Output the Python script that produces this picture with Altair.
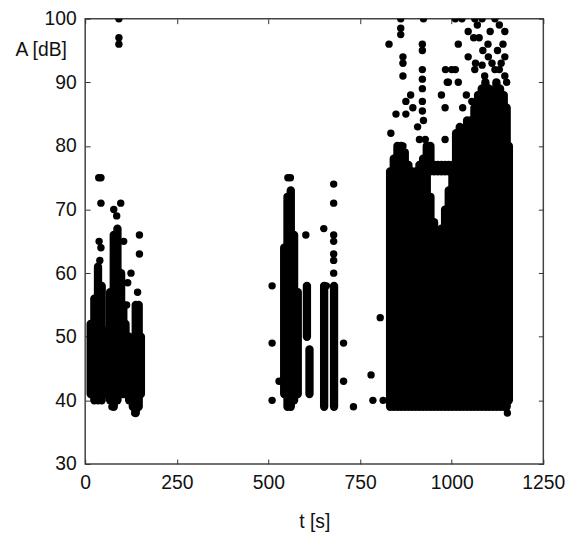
import altair as alt
import pandas as pd

# ---- dense stacks of points read as vertical runs (time, lowest level, highest level)
col_t = [15, 25, 35, 45, 57, 68, 78, 88, 98, 104, 110, 120, 130, 138, 146, 152,
         543, 552, 561, 570, 580, 605, 612, 652, 679,
         832, 842, 852, 862, 872, 882, 892, 902, 912, 922, 932,
         942, 942, 952, 952, 962, 962, 972, 972, 982, 982, 992, 992,
         1002, 1012, 1022, 1032, 1042, 1052, 1062, 1072, 1082, 1092,
         1102, 1112, 1122, 1132, 1142, 1150, 1156]
col_lo = [41, 40, 40, 40, 41, 40, 39, 40, 41, 41, 41, 40, 39, 38, 39, 41,
          41, 39, 39, 40, 41, 50, 41, 39, 39,
          39, 39, 39, 39, 39, 39, 39, 39, 39, 39, 39,
          39, 76, 39, 76, 39, 76, 39, 76, 39, 76, 39, 76,
          39, 39, 39, 39, 39, 39, 39, 39, 39, 39,
          39, 39, 39, 39, 39, 39, 40]
col_hi = [52, 56, 61, 58, 51, 57, 66, 67, 60, 55, 52, 50, 47, 55, 55, 50,
          64, 72, 73, 66, 57, 58, 48, 58, 58,
          76, 78, 80, 80, 79, 77, 76, 76, 77, 78, 80,
          72, 80, 68, 77, 66.5, 77, 67, 77, 70, 77, 73, 77,
          77, 82, 83, 82, 84, 84, 86, 88, 89, 90,
          89, 88, 90, 89, 88, 86, 80]

# ---- isolated points (time, level)
pt_t = [37, 43, 43, 97, 78, 86, 148, 148, 38, 43, 40, 105, 92, 92, 92,
        116, 143, 113, 73, 135, 125,
        553, 560, 602, 651, 678, 678, 678, 678, 678, 678, 678,
        510, 605, 652, 658, 510, 510, 529, 705, 705, 732, 780, 785, 813, 805,
        1152,
        861, 861, 861, 923, 829, 920, 920, 867, 867, 867, 920, 920, 920,
        983, 1000, 1010, 988, 972, 888, 875, 894, 920, 920, 848, 875, 982,
        923, 907, 834, 912, 928, 982, 867,
        1010, 1028, 1063, 1083, 1118, 1130, 1145, 1045, 1060, 1075, 1099,
        1018, 1085, 1100, 1110, 1118, 1145, 1045, 1065, 1083, 991, 1018,
        1145, 1063, 1130, 1150, 1040, 1055, 1030, 1090, 1125, 1140, 1070,
        1105, 1135]
pt_a = [75, 75, 71, 71, 70, 69, 66, 63, 65, 64, 62, 65, 100, 97, 96,
        58.5, 57, 55, 39, 38, 60,
        75, 75, 66, 67, 74, 71, 66, 65, 63, 62, 60,
        58, 58, 58, 58, 49, 40, 43, 49, 43, 39, 44, 40, 40, 53,
        38,
        100, 98.5, 97.5, 100, 96, 96, 95, 94, 93, 91, 92, 90.5, 89,
        92, 92, 92, 90, 88, 88, 87, 86, 87, 85.5, 85, 85, 86,
        84, 83, 82, 81, 81, 81, 80,
        100, 100, 100, 100, 100, 99, 98, 98, 97, 97, 96,
        96, 95, 94, 93, 92, 94, 94, 93, 92.7, 90, 90,
        91, 92, 92, 90, 88, 87, 86, 91, 95, 96, 99,
        98, 93]

x_ticks = [0, 250, 500, 750, 1000, 1250]
y_ticks = [30, 40, 50, 60, 70, 80, 90, 100]

cols = pd.DataFrame({"t": col_t, "lo": col_lo, "hi": col_hi})
pts = pd.DataFrame({"t": pt_t, "A": pt_a})

FONT = "Liberation Sans"
FS = 19.5

xs = alt.Scale(domain=[0, 1250], nice=False, zero=False)
ys = alt.Scale(domain=[30, 100], nice=False, zero=False)

ax_x = alt.Axis(values=x_ticks, format="d", domain=False, grid=False, tickSize=5, offset=-5,
                labelPadding=10, labelFlush=False, labelOverlap=False,
                title="t [s]", titleY=69, titleBaseline="alphabetic",
                titleFontWeight="normal")
ax_y = alt.Axis(values=y_ticks, format="d", domain=False, grid=False, tickSize=5, offset=-5,
                labelPadding=9, labelFlush=False, labelOverlap=False,
                title="A [dB]", titleAngle=0, titleAlign="center",
                titleX=-50, titleY=37, titleBaseline="alphabetic",
                titleFontWeight="normal")
ax_x2 = alt.Axis(orient="top", values=x_ticks, domain=False, grid=False, tickSize=5,
                 offset=-5, labels=False, title="")
ax_y2 = alt.Axis(orient="right", values=y_ticks, domain=False, grid=False, tickSize=5,
                 offset=-5, labels=False, title="")

runs = alt.Chart(cols).mark_rule(color="black", strokeWidth=8.4, strokeCap="round",
                                 clip=True).encode(
    x=alt.X("t:Q", scale=xs, axis=ax_x),
    y=alt.Y("lo:Q", scale=ys, axis=ax_y),
    y2="hi:Q",
)

dots = alt.Chart(pts).mark_circle(color="black", size=56, opacity=1, clip=True).encode(
    x=alt.X("t:Q", scale=xs, axis=ax_x2),
    y=alt.Y("A:Q", scale=ys, axis=ax_y2),
)

chart = alt.layer(runs, dots).resolve_axis(x="independent", y="independent").properties(
    width=463, height=450,
    autosize=alt.AutoSizeParams(type="none"),
    padding={"left": 78, "top": 8, "right": 30, "bottom": 72},
).configure_view(stroke="#444", strokeWidth=1.5).configure_axis(
    labelFont=FONT, labelFontSize=FS, labelColor="#111",
    titleFont=FONT, titleFontSize=FS, titleColor="#111",
    tickColor="#333", tickWidth=1,
)

chart.save("out.html", embed_options={"renderer": "svg", "actions": False})
